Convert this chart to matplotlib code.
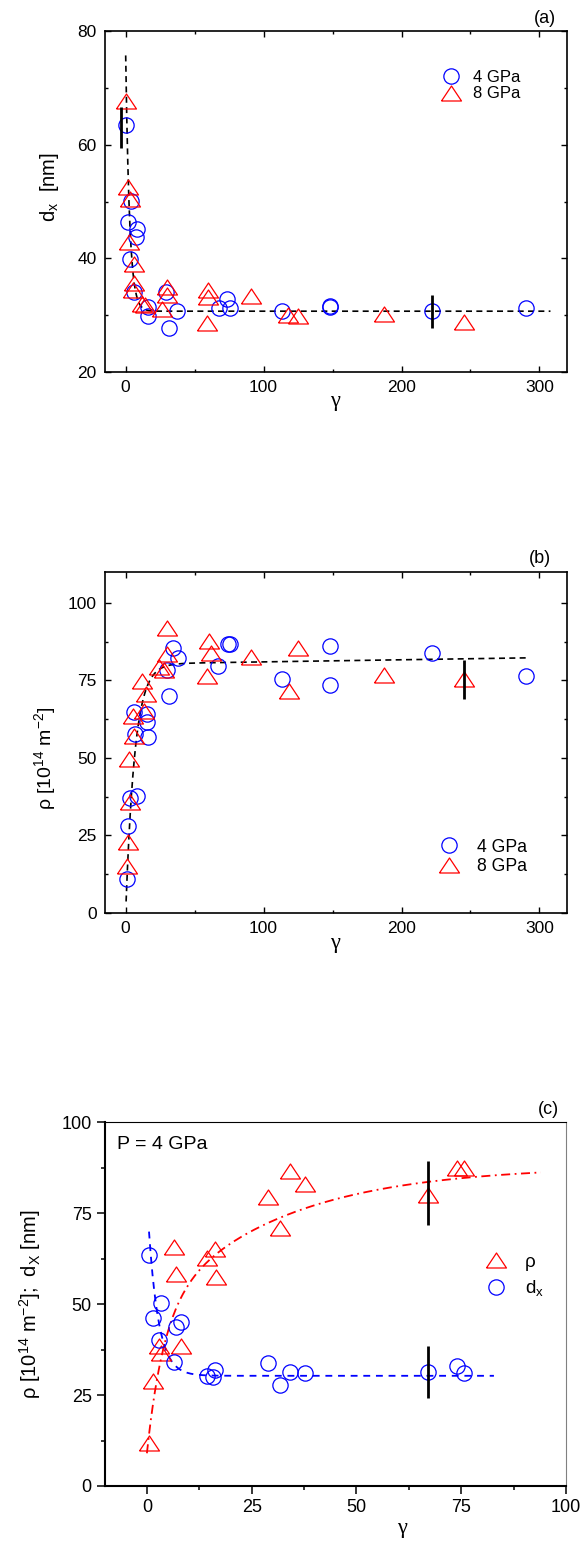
import numpy as np
import matplotlib
matplotlib.use("Agg")
import matplotlib.pyplot as plt
from matplotlib.ticker import MultipleLocator

plt.rcParams['font.family'] = ['Liberation Sans', 'DejaVu Sans']
plt.rcParams['mathtext.default'] = 'regular'

# ---------------- (a) crystallite size d_x vs shear strain gamma ----------------
a_gam_4 = [0.2, 3.6, 1.5, 8.4, 7.3, 3.1, 6.3, 16.4, 16.0, 29.0, 37.5, 31.7,
           73.8, 67.3, 75.7, 113.3, 148.0, 148.5, 222.2, 290.0]
a_dx_4 = [63.4, 50.1, 46.4, 45.1, 43.8, 39.9, 34.1, 31.4, 29.9, 34.0, 30.8, 27.7,
          32.9, 31.3, 31.3, 30.7, 31.7, 31.4, 30.7, 31.3]
a_gam_8 = [0.2, 1.5, 3.1, 2.6, 6.3, 6.3, 5.5, 11.6, 14.0, 29.8, 29.8, 26.1,
           60.0, 60.0, 59.3, 90.8, 118.0, 125.3, 187.0, 245.0]
a_dx_8 = [67.7, 52.6, 50.4, 42.9, 39.0, 35.7, 34.4, 32.0, 31.8, 35.0, 33.5, 31.1,
          34.4, 33.2, 28.6, 33.3, 30.1, 29.9, 30.2, 28.8]
a_err_gam = [-3.4, 222.2]
a_err_val = [63.0, 30.65]
a_err_half = [3.6, 2.95]
# exponential decay fit: d = d_sat + amp * exp(-gamma / tau)
a_fit = dict(d_sat=30.7, amp=45.0, tau=2.8, g_end=308.0)

# ---------------- (b) dislocation density rho vs gamma ----------------
b_gam_4 = [0.7, 1.5, 3.1, 8.4, 6.3, 15.2, 15.2, 6.8, 16.4, 34.1, 37.8, 29.8, 31.7,
           66.8, 74.5, 75.7, 113.3, 147.9, 147.9, 222.2, 290.0]
b_rho_4 = [10.9, 28.1, 36.9, 37.7, 64.8, 64.3, 61.6, 57.6, 56.6, 85.5, 82.3, 78.5, 70.1,
           79.8, 86.7, 86.7, 75.6, 86.1, 73.5, 83.9, 76.5]
b_gam_8 = [0.7, 1.5, 3.1, 2.6, 6.3, 5.5, 13.5, 14.5, 11.6, 24.4, 28.0, 29.8, 30.2,
           60.5, 62.0, 59.3, 90.8, 125.3, 118.6, 187.0, 245.2]
b_rho_8 = [15.2, 22.9, 35.7, 49.5, 57.0, 63.5, 65.2, 70.5, 74.8, 79.2, 78.5, 83.5, 91.8,
           87.7, 83.9, 76.3, 82.4, 85.6, 71.6, 76.7, 75.3]
b_err_gam = [245.2]
b_err_val = [75.2]
b_err_half = [6.35]
# saturating fit: rho = (r0 + slope*gamma) * (1 - exp(-gamma / tau))
b_fit = dict(r0=80.3, slope=0.0068, tau=6.5, g_start=0.3, g_end=291.0)

# ---------------- (c) both quantities at P = 4 GPa ----------------
c_gam_dx = [0.5, 3.4, 1.4, 8.2, 6.9, 3.0, 6.4, 14.4, 16.2, 15.8, 29.0, 31.7, 34.1,
            37.7, 67.1, 74.0, 75.6]
c_dx = [63.5, 50.2, 46.3, 45.1, 43.6, 40.1, 34.2, 30.2, 31.9, 30.0, 33.9, 27.7, 31.4,
        31.0, 31.4, 33.0, 31.1]
c_gam_rho = [0.5, 1.4, 3.0, 3.4, 8.2, 6.5, 6.9, 14.4, 16.2, 16.4, 29.0, 34.1, 37.7,
             31.7, 67.1, 74.0, 75.6]
c_rho = [11.7, 28.8, 38.5, 36.6, 38.5, 65.6, 58.3, 62.8, 65.1, 57.4, 79.5, 86.5, 83.1,
         70.9, 80.0, 87.5, 87.5]
c_err_gam = [67.1, 67.1]
c_err_val = [31.3, 80.5]
c_err_half = [7.2, 8.85]
c_fit_dx = dict(d_sat=30.3, amp=49.0, tau=2.36, g_start=0.5, g_end=82.8)
c_fit_rho = dict(r_sat=88.0, a1=38.0, t1=4.0, a2=41.0, t2=30.0, g_end=94.0)

BLUE = '#0000ff'
RED = '#ff0000'
TRI = [(-1.0, -0.75), (1.0, -0.75), (0.0, 0.75), (-1.0, -0.75)]
CIRC_MS = 11
TRI_MS = 14.4
MEW = 0.9
GREEK = ['Liberation Serif', 'DejaVu Serif']

W, H = 586, 1544
fig = plt.figure(figsize=(W / 100, H / 100), dpi=100)


def axes_px(left, top, right, bottom):
    return fig.add_axes([left / W, 1 - bottom / H, (right - left) / W, (bottom - top) / H])


def style_boxed(ax):
    for s in ax.spines.values():
        s.set_linewidth(1.2)
    ax.tick_params(which='both', direction='in', top=True, right=True,
                   labelsize=12.5, pad=6, width=1.0)
    ax.tick_params(which='major', length=4.5)
    ax.tick_params(which='minor', length=2.5)


def circles(ax, x, y, label=None):
    return ax.plot(x, y, linestyle='none', marker='o', ms=CIRC_MS, mfc='none',
                   mec=BLUE, mew=MEW, label=label)[0]


def triangles(ax, x, y, label=None):
    return ax.plot(x, y, linestyle='none', marker=TRI, ms=TRI_MS, mfc='none',
                   mec=RED, mew=MEW, label=label)[0]


def errbars(ax, x, y, h):
    ax.errorbar(x, y, yerr=h, fmt='none', ecolor='black', elinewidth=2.0, capsize=0)


# ---------------- panel (a) ----------------
ax = axes_px(105, 31, 567, 372)
g = np.linspace(0.0, a_fit['g_end'], 800)
ax.plot(g, a_fit['d_sat'] + a_fit['amp'] * np.exp(-g / a_fit['tau']),
        color='black', lw=1.2, dashes=(3.6, 2.6))
h4 = circles(ax, a_gam_4, a_dx_4, '4 GPa')
h8 = triangles(ax, a_gam_8, a_dx_8, '8 GPa')
errbars(ax, a_err_gam, a_err_val, a_err_half)
ax.set_xlim(-15, 320)
ax.set_ylim(20, 80)
ax.xaxis.set_major_locator(MultipleLocator(100))
ax.xaxis.set_minor_locator(MultipleLocator(50))
ax.yaxis.set_major_locator(MultipleLocator(20))
ax.yaxis.set_minor_locator(MultipleLocator(10))
style_boxed(ax)
ax.set_xlabel('γ', fontsize=16, family=GREEK, va='center')
ax.xaxis.set_label_coords(0.498, -0.087)
ax.set_ylabel('d$_x$  [nm]', fontsize=14.5, va='center')
ax.yaxis.set_label_coords(-0.121, 0.5425)
ax.text(0.952, 1.038, '(a)', transform=ax.transAxes, ha='center', va='center', fontsize=13)
ax.legend(handles=[h4, h8], loc='center left', bbox_to_anchor=(0.730, 0.840),
          frameon=False, fontsize=12, handlelength=1.0, handletextpad=0.84,
          labelspacing=0.1, borderpad=0, borderaxespad=0)

# ---------------- panel (b) ----------------
ax = axes_px(105, 572, 567, 912.7)
g = np.linspace(b_fit['g_start'], b_fit['g_end'], 1200)
ax.plot(g, (b_fit['r0'] + b_fit['slope'] * g) * (1 - np.exp(-g / b_fit['tau'])),
        color='black', lw=1.2, dashes=(3.6, 2.6))
h4 = circles(ax, b_gam_4, b_rho_4, '4 GPa')
h8 = triangles(ax, b_gam_8, b_rho_8, '8 GPa')
errbars(ax, b_err_gam, b_err_val, b_err_half)
ax.set_xlim(-15, 320)
ax.set_ylim(0, 110)
ax.xaxis.set_major_locator(MultipleLocator(100))
ax.xaxis.set_minor_locator(MultipleLocator(50))
ax.yaxis.set_major_locator(MultipleLocator(25))
ax.yaxis.set_minor_locator(MultipleLocator(12.5))
style_boxed(ax)
ax.set_xlabel('γ', fontsize=16, family=GREEK, va='center')
ax.xaxis.set_label_coords(0.498, -0.089)
ax.set_ylabel('ρ [10$^{14}$ m$^{-2}$]', fontsize=14, va='center')
ax.yaxis.set_label_coords(-0.13, 0.454)
ax.text(0.9416, 1.041, '(b)', transform=ax.transAxes, ha='center', va='center', fontsize=13)
ax.legend(handles=[h4, h8], loc='center left', bbox_to_anchor=(0.7256, 0.1635),
          frameon=False, fontsize=12.7, handlelength=1.0, handletextpad=1.07,
          labelspacing=0.15, borderpad=0, borderaxespad=0)

# ---------------- panel (c) ----------------
ax = axes_px(105, 1122.3, 566, 1486)
g = np.linspace(0.0, c_fit_rho['g_end'], 800)
ax.plot(g, c_fit_rho['r_sat'] - c_fit_rho['a1'] * np.exp(-g / c_fit_rho['t1'])
        - c_fit_rho['a2'] * np.exp(-g / c_fit_rho['t2']),
        color=RED, lw=1.3, dashes=(5.0, 2.5, 1.0, 2.5))
g = np.linspace(c_fit_dx['g_start'], c_fit_dx['g_end'], 800)
ax.plot(g, c_fit_dx['d_sat'] + c_fit_dx['amp'] * np.exp(-g / c_fit_dx['tau']),
        color=BLUE, lw=1.3, dashes=(3.8, 3.2))
hr = triangles(ax, c_gam_rho, c_rho, 'ρ')
hd = circles(ax, c_gam_dx, c_dx, 'd$_x$')
errbars(ax, c_err_gam, c_err_val, c_err_half)
ax.set_xlim(-10, 100)
ax.set_ylim(0, 100)
ax.xaxis.set_major_locator(MultipleLocator(25))
ax.xaxis.set_minor_locator(MultipleLocator(12.5))
ax.yaxis.set_major_locator(MultipleLocator(25))
ax.yaxis.set_minor_locator(MultipleLocator(12.5))
ax.spines['left'].set_linewidth(1.5)
ax.spines['bottom'].set_linewidth(1.5)
ax.spines['top'].set_linewidth(0.8)
ax.spines['right'].set_linewidth(0.8)
ax.spines['right'].set_color('#808080')
ax.tick_params(which='both', direction='out', top=False, right=False,
               labelsize=13, pad=4, width=1.1)
ax.tick_params(which='major', length=5.5)
ax.tick_params(which='minor', length=3.2)
ax.set_xlabel('γ', fontsize=16, family=GREEK, va='center')
ax.xaxis.set_label_coords(0.6436, -0.1155)
ax.set_ylabel('ρ [10$^{14}$ m$^{-2}$];  d$_X$ [nm]', fontsize=14.5, va='center')
ax.yaxis.set_label_coords(-0.163, 0.5)
ax.text(0.961, 1.034, '(c)', transform=ax.transAxes, ha='center', va='center', fontsize=13)
ax.text(0.0254, 0.9376, 'P = 4 GPa', transform=ax.transAxes, ha='left', va='center',
        fontsize=14)
ax.legend(handles=[hr, hd], loc='center left', bbox_to_anchor=(0.827, 0.578),
          frameon=False, fontsize=13.5, handlelength=1.0, handletextpad=1.06,
          labelspacing=0.4, borderpad=0, borderaxespad=0)

fig.savefig('out.png', dpi=100)
